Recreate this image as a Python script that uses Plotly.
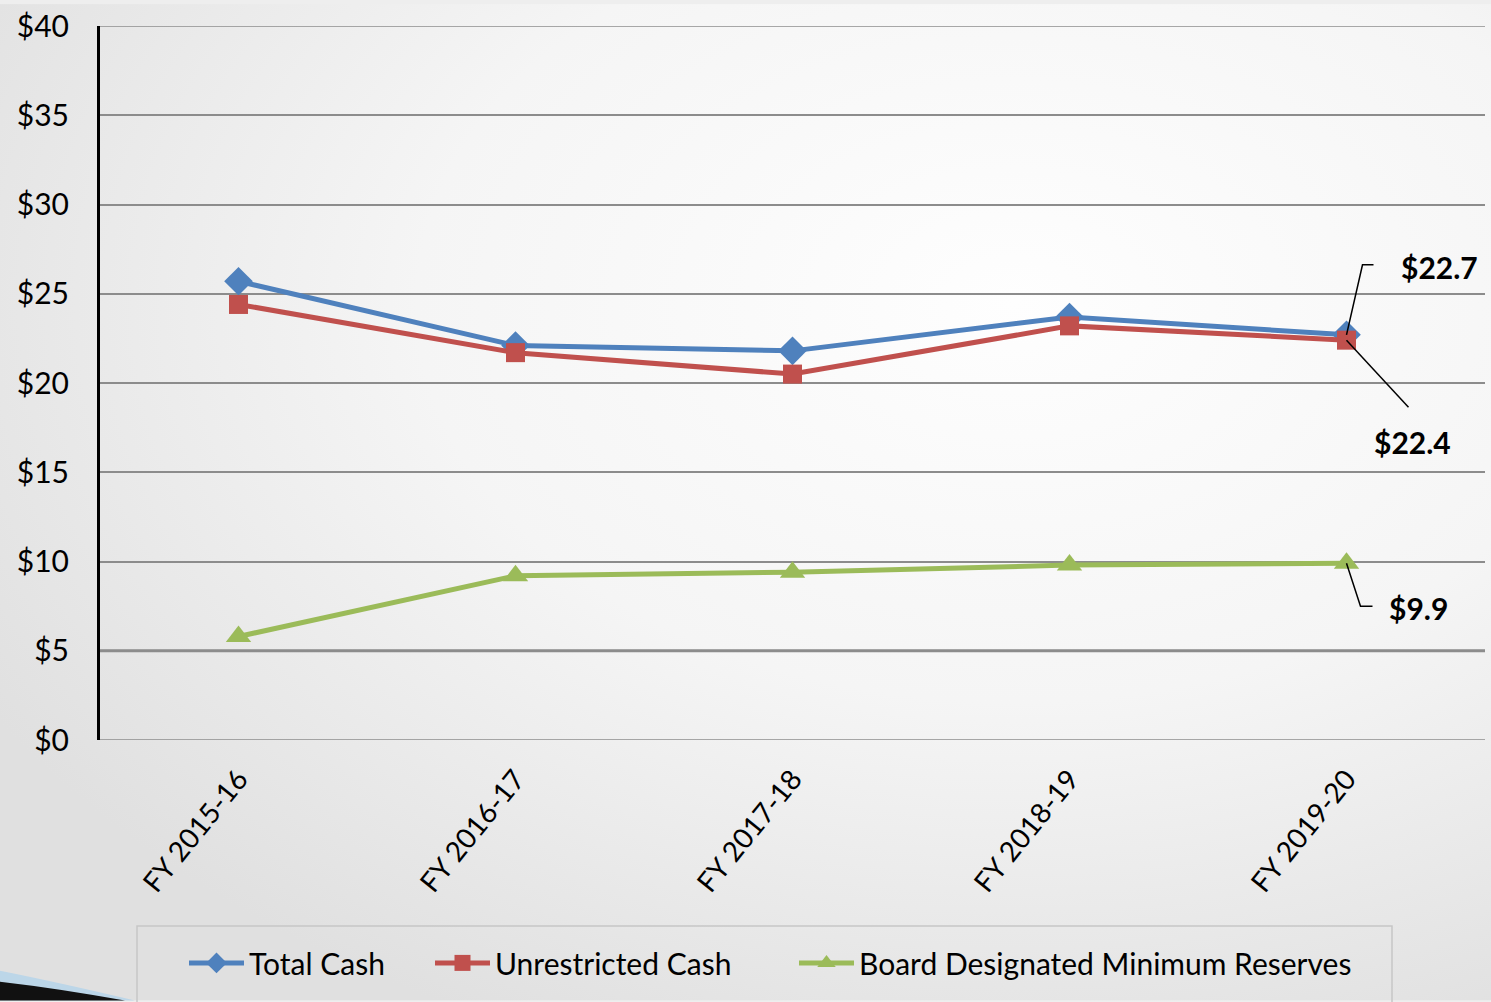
import base64
import plotly.graph_objects as go

categories = ["FY 2015-16", "FY 2016-17", "FY 2017-18", "FY 2018-19", "FY 2019-20"]
total_cash = [25.7, 22.1, 21.8, 23.7, 22.7]
unrestricted_cash = [24.4, 21.7, 20.5, 23.2, 22.4]
board_reserves = [5.8, 9.2, 9.4, 9.8, 9.9]
y_ticks = [0, 5, 10, 15, 20, 25, 30, 35, 40]
y_tick_labels = ["$" + str(v) for v in y_ticks]

W, H = 1491, 1002
L, R, T, B = 100, 1485, 22, 740
PW, PH = R - L, B - T


def px(x):
    return (x - L) / PW


def py(y):
    return (B - y) / PH


FONT = "Lato"
BLUE, RED, GREEN = "#4F81BD", "#C0504D", "#9BBB59"

fig = go.Figure()
fig.add_trace(go.Scatter(x=categories, y=total_cash, name="Total Cash", mode="lines+markers",
                         line=dict(color=BLUE, width=5), legend="legend",
                         marker=dict(symbol="diamond", size=22, color=BLUE)))
fig.add_trace(go.Scatter(x=categories, y=unrestricted_cash, name="Unrestricted Cash", mode="lines+markers",
                         line=dict(color=RED, width=5), legend="legend2",
                         marker=dict(symbol="square", size=19, color=RED)))
fig.add_trace(go.Scatter(x=categories, y=board_reserves, name="Board Designated Minimum Reserves",
                         mode="lines+markers", legend="legend3",
                         line=dict(color=GREEN, width=5),
                         marker=dict(symbol="triangle-up", size=22, color=GREEN)))

# background gradient
svg = f'''<svg xmlns="http://www.w3.org/2000/svg" width="{W}" height="{H}">
<defs><radialGradient id="g" cx="0.68" cy="0.30" r="0.80">
<stop offset="0" stop-color="#fefefe"/><stop offset="0.5" stop-color="#f5f5f5"/>
<stop offset="1" stop-color="#e0e0e0"/></radialGradient></defs>
<rect width="{W}" height="{H}" fill="url(#g)"/></svg>'''
uri = "data:image/svg+xml;base64," + base64.b64encode(svg.encode()).decode()
fig.add_layout_image(dict(source=uri, xref="paper", yref="paper", x=px(0), y=py(0),
                          sizex=W / PW, sizey=H / PH, sizing="stretch", layer="below",
                          xanchor="left", yanchor="top"))

# gridlines at the range edges, thicker $5 line
for v in [0, 40]:
    fig.add_shape(type="line", xref="paper", yref="y", x0=0, x1=1, y0=v, y1=v,
                  line=dict(color="#8c8c8c", width=1.5), layer="below")
fig.add_shape(type="line", xref="paper", yref="y", x0=0, x1=1, y0=5, y1=5,
              line=dict(color="#8a8a8a", width=3), layer="below")

# legend frame
fig.add_shape(type="rect", xref="paper", yref="paper", x0=px(137), x1=px(1392), y0=py(1010), y1=py(927),
              line=dict(color="#c6c6c6", width=1.5), fillcolor="rgba(0,0,0,0)")

# corner swoosh decoration
fig.add_shape(type="path", xref="paper", yref="paper",
              path=f"M {px(0)},{py(972)} Q {px(60)},{py(984)} {px(135)},{py(1002)} L {px(0)},{py(1002)} Z",
              fillcolor="#bcd6e8", line=dict(width=0))
fig.add_shape(type="path", xref="paper", yref="paper",
              path=f"M {px(0)},{py(983)} Q {px(60)},{py(990)} {px(125)},{py(1002)} L {px(0)},{py(1002)} Z",
              fillcolor="#111111", line=dict(width=0))

# leader lines (pixel offsets from the last data point)
leaders = [
    (total_cash[4], "M 0,0 L 16,70 L 27,70"),
    (unrestricted_cash[4], "M 0,0 L 62,-67"),
    (board_reserves[4], "M 0,0 L 14,-43 L 26,-43"),
]
for yv, path in leaders:
    fig.add_shape(type="path", xref="x", yref="y", xsizemode="pixel", ysizemode="pixel",
                  xanchor=4, yanchor=yv, path=path, line=dict(color="#000", width=1.5))

ann_font = dict(family=FONT, size=30, color="#000000")
labels = [(total_cash[4], 93, -68), (unrestricted_cash[4], 66, 102), (board_reserves[4], 72, 45)]
for yv, ax, ay in labels:
    fig.add_annotation(x=categories[4], y=yv, text="<b>$" + str(yv) + "</b>",
                       showarrow=True, arrowhead=0, arrowwidth=0.1, arrowcolor="rgba(0,0,0,0)",
                       ax=ax, ay=ay, font=ann_font, xanchor="center", yanchor="middle")

leg_common = dict(orientation="h", xanchor="left", y=py(938), yanchor="top",
                  bgcolor="rgba(0,0,0,0)", borderwidth=0,
                  font=dict(family=FONT, size=30, color="#000"), itemwidth=55)
fig.update_layout(
    width=W, height=H,
    margin=dict(l=L, r=W - R, t=T, b=H - B),
    paper_bgcolor="#eeeeee", plot_bgcolor="rgba(0,0,0,0)",
    font=dict(family=FONT, size=28, color="#000"),
    showlegend=True,
    legend=dict(x=px(184), **leg_common),
    legend2=dict(x=px(430), **leg_common),
    legend3=dict(x=px(794), **leg_common),
    xaxis=dict(type="category", range=[-0.5, 4.5], showgrid=False, showline=False,
               tickangle=-51, ticks="", tickfont=dict(family=FONT, size=28),
               ticklabelstandoff=16, zeroline=False),
    yaxis=dict(range=[0, 40], tickvals=y_ticks, ticktext=y_tick_labels,
               showgrid=True, gridcolor="#8c8c8c", gridwidth=1.5,
               showline=True, linecolor="#000", linewidth=3, ticks="",
               tickfont=dict(family=FONT, size=30), ticklabelstandoff=22, zeroline=False),
)

fig.write_html("out.html", config={"displayModeBar": False},
               post_script="document.body.style.margin='0';document.body.style.overflow='hidden';")
